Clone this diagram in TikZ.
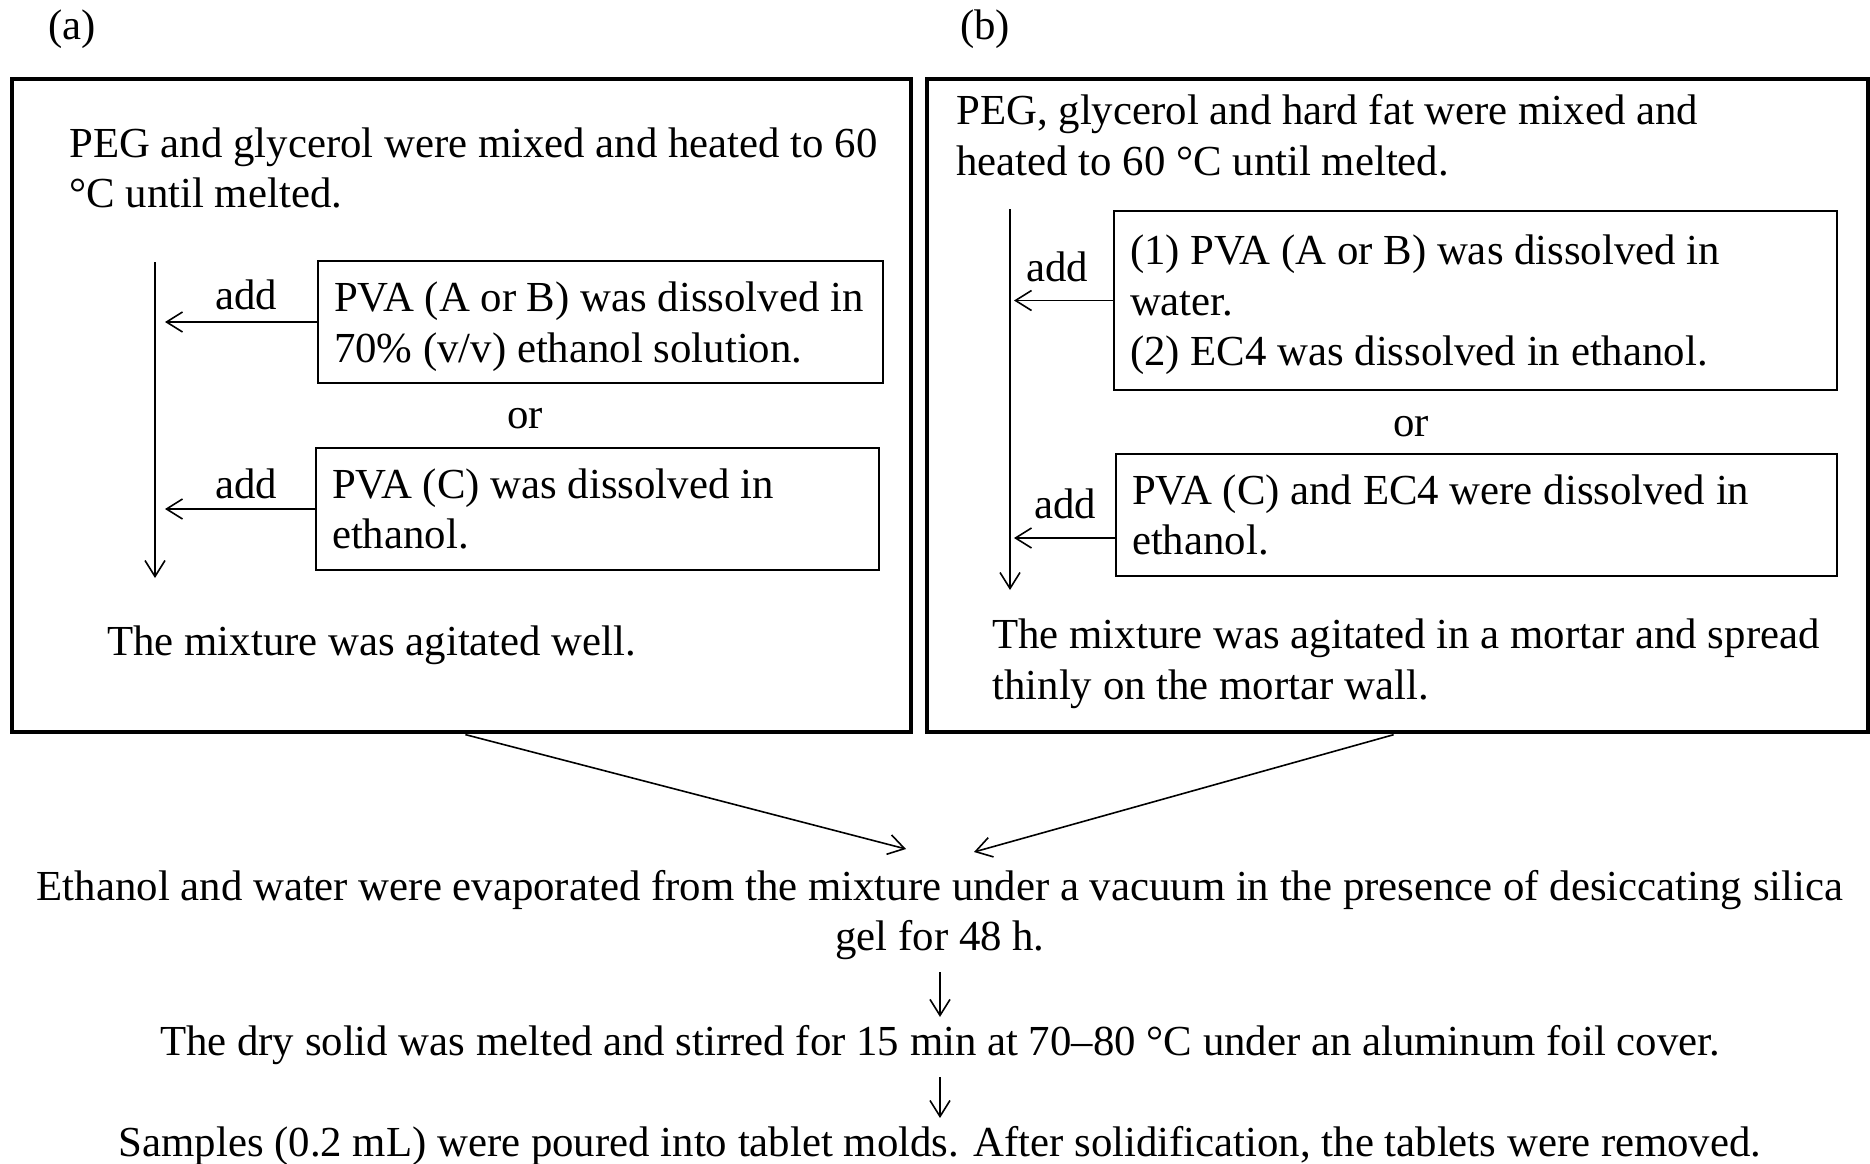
\documentclass[tikz,border=0pt]{standalone}
\usepackage{fontspec}
\setmainfont{Liberation Serif}
\usepackage{tikz}
\usetikzlibrary{arrows.meta,positioning}
\definecolor{Ink}{HTML}{000000}

\begin{document}
\begin{tikzpicture}[x=0.5pt,y=-0.5pt,
  txt/.style={font=\fontsize{21.4}{25.3}\selectfont,inner sep=0pt,align=flush left,text=Ink},
  ctr/.style={txt,align=flush center},
  frame/.style={draw=Ink,line width=1.6pt},
  inbox/.style={txt,draw=Ink,line width=0.9pt,inner xsep=8pt,inner ysep=0pt},
  arr/.style={draw=Ink,line width=0.8pt,-{Straight Barb[length=8pt,width=10pt]}}]
  \useasboundingbox (0,0) rectangle (1870,1163);
  % panel labels
  \node[txt] (labA) at (72,29) {(a)};
  \node[txt] (labB) at (985,29) {(b)};
  % outer frames
  \node[frame,minimum width=449.5pt,minimum height=326.5pt] (boxA) at (461.5,405.5) {};
  \node[frame,minimum width=470.5pt,minimum height=326.5pt] (boxB) at (1397.5,405.5) {};
  % panel (a)
  \node[txt,anchor=west] (headA) at (69,168) {PEG and glycerol were mixed and heated to 60\\°C until melted.};
  \node[inbox,text width=266.5pt,minimum height=61pt,text depth=25.3pt] (pvaAB) at (600.5,322) {PVA (A or B) was dissolved in\\70\% (v/v) ethanol solution.};
  \node[txt] (orA) at (525,419) {or};
  \node[inbox,text width=265.5pt,minimum height=61pt] (pvaC) at (597.5,509) {PVA (C) was dissolved in\\ethanol.};
  \node[txt] (addA1) at (246,295) {add};
  \node[txt] (addA2) at (246,484) {add};
  \node[txt,anchor=west] (mixA) at (107,645) {The mixture was agitated well.};
  \coordinate (vAtop) at (155,262);
  \coordinate (vAbot) at (155,578);
  \draw[arr] (vAtop) -- (vAbot);
  \draw[arr,shorten >=5pt] (pvaAB.west) -- (pvaAB.west -| vAtop);
  \draw[arr,shorten >=5pt] (pvaC.west) -- (pvaC.west -| vAtop);
  % panel (b)
  \node[txt,anchor=west] (headB) at (956,135) {PEG, glycerol and hard fat were mixed and\\heated to 60 °C until melted.};
  \node[inbox,text width=345.5pt,minimum height=89.5pt,text depth=50.6pt] (pvaEC) at (1475.5,300.5) {(1) PVA (A or B) was dissolved in\\water.\\(2) EC4 was dissolved in ethanol.};
  \node[txt] (orB) at (1411,427) {or};
  \node[inbox,text width=344.5pt,minimum height=61pt] (pvaCEC) at (1476.5,515) {PVA (C) and EC4 were dissolved in\\ethanol.};
  \node[txt] (addB1) at (1057,267) {add};
  \node[txt] (addB2) at (1065,504) {add};
  \node[txt,anchor=west] (mixB) at (992,664) {The mixture was agitated in a mortar and spread\\thinly on the mortar wall.};
  \coordinate (vBtop) at (1010,209);
  \coordinate (vBbot) at (1010,590);
  \coordinate (pvaCECin) at ([yshift=-11.5pt]pvaCEC.west);
  \draw[arr] (vBtop) -- (vBbot);
  \draw[arr,shorten >=2pt] (pvaEC.west) -- (pvaEC.west -| vBtop);
  \draw[arr,shorten >=2pt] (pvaCECin) -- (pvaCECin -| vBtop);
  % common steps
  \node[ctr] (evap) at (940,915) {Ethanol and water were evaporated from the mixture under a vacuum in the presence of desiccating silica\\gel for 48 h.};
  \node[ctr] (dry) at (940,1045) {The dry solid was melted and stirred for 15 min at 70–80 °C under an aluminum foil cover.};
  \node[ctr] (pour) at (940,1146) {Samples (0.2 mL) were poured into tablet molds. After solidification, the tablets were removed.};
  \coordinate (inA) at (906,849);
  \coordinate (inB) at (974,852);
  \draw[arr,shorten <=2pt] (boxA.south) -- (inA);
  \draw[arr,shorten <=2pt] (boxB.south) -- (inB);
  \draw[arr,shorten <=6pt,shorten >=4pt] (evap) -- (dry);
  \draw[arr,shorten <=6pt,shorten >=4pt] (dry) -- (pour);
\end{tikzpicture}
\end{document}
